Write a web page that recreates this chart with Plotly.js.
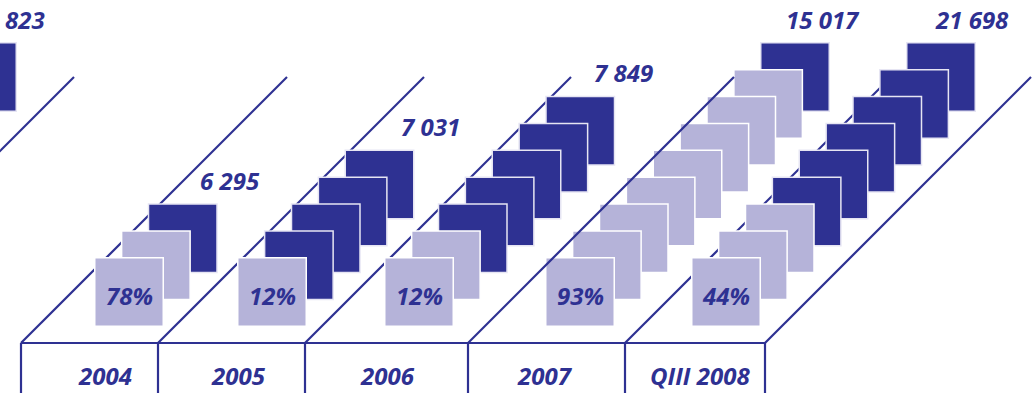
<!DOCTYPE html>
<html><head><meta charset="utf-8">
<script src="https://cdn.plot.ly/plotly-3.0.1.min.js"></script>
<style>html,body{margin:0;padding:0;background:#fff}#chart{width:1034px;height:393px}</style>
</head><body><div id="chart"></div>
<script>
// ---------- data ----------
// first group is cut at the left edge of the reference: only its trailing digits "823" are visible
const categories = ['2003', '2004', '2005', '2006', '2007', 'QIII 2008'];
const values = [823, 6295, 7031, 7849, 15017, 21698];
const growthPct = [null, 78, 12, 12, 93, 44];
const lightSquares = [0, 2, 1, 2, 8, 3];
const darkSquares = [9, 1, 4, 5, 1, 6];

// ---------- layout constants (pixel-mapped axes) ----------
const W = 1034, H = 393;
const NAVY = '#2E3192', LILAC = '#B5B3D9';
const laneEdges = [-192, 21, 158, 305, 468, 625, 765]; // lane/box edges at baseline
const laneAbove = [false, false, false, false, true, false, false];
const baseY = 343, topY = 77;
const frontLeft = [-268, 94, 237, 384, 545, 691];
const frontTop = 257, step = 26.875, side = 70;
const valueRight = [47, 262, 462, 655, 862, 1011];
const catCenter = [null, 105, 238, 387, 545, 700];
const catY = 375;

function fmt(v) { return String(v).replace(/\B(?=(\d{3})+(?!\d))/g, ' '); }

// ---------- squares ----------
const dark = {x: [], y: []}, light = {x: [], y: []};
categories.forEach((c, g) => {
  const n = lightSquares[g] + darkSquares[g];
  for (let i = n - 1; i >= 0; i--) {
    const cx = frontLeft[g] + i * step + side / 2;
    const cy = frontTop - i * step + side / 2;
    const tgt = i < lightSquares[g] ? light : dark;
    tgt.x.push(cx); tgt.y.push(cy);
  }
});

const traces = [
  {type: 'scatter', mode: 'markers', x: dark.x, y: dark.y, hoverinfo: 'skip', showlegend: false,
   marker: {symbol: 'square', size: side - 1.5, color: NAVY, line: {color: '#E6E5F3', width: 1.5}}},
  {type: 'scatter', mode: 'markers', x: light.x, y: light.y, hoverinfo: 'skip', showlegend: false,
   marker: {symbol: 'square', size: side - 1.5, color: LILAC, line: {color: '#FFFFFF', width: 1.5}}}
];

// ---------- lines ----------
const shapes = [];
const ln = {color: NAVY, width: 2.2};
laneEdges.forEach((e, k) => {
  shapes.push({type: 'line', xref: 'x', yref: 'y', x0: e, y0: baseY, x1: e + (baseY - topY), y1: topY,
               line: ln, layer: laneAbove[k] ? 'above' : 'below'});
  if (k >= 1) shapes.push({type: 'line', xref: 'x', yref: 'y', x0: e, y0: baseY, x1: e, y1: H + 5, line: ln, layer: 'below'});
});
shapes.push({type: 'line', xref: 'x', yref: 'y', x0: laneEdges[1], y0: baseY, x1: laneEdges[laneEdges.length - 1], y1: baseY, line: ln, layer: 'below'});

// ---------- text ----------
const font = {family: 'Open Sans, sans-serif', size: 24, color: NAVY, weight: 700, style: 'italic'};
const annotations = [];
categories.forEach((c, g) => {
  const n = lightSquares[g] + darkSquares[g];
  const topSq = frontTop - (n - 1) * step;
  annotations.push({xref: 'x', yref: 'y', x: valueRight[g], y: topSq - 23, text: fmt(values[g]),
                    xanchor: 'right', yanchor: 'middle', showarrow: false, font: font});
  if (growthPct[g] !== null) {
    annotations.push({xref: 'x', yref: 'y', x: frontLeft[g] + side / 2, y: frontTop + side / 2 + 3,
                      text: growthPct[g] + '%', xanchor: 'center', yanchor: 'middle', showarrow: false, font: font});
  }
  if (catCenter[g] !== null) {
    annotations.push({xref: 'x', yref: 'y', x: catCenter[g], y: catY, text: c,
                      xanchor: 'center', yanchor: 'middle', showarrow: false, font: font});
  }
});

const layout = {
  width: W, height: H, margin: {l: 0, r: 0, t: 0, b: 0, pad: 0},
  paper_bgcolor: '#fff', plot_bgcolor: '#fff', showlegend: false,
  xaxis: {range: [0, W], visible: false, fixedrange: true},
  yaxis: {range: [H, 0], visible: false, fixedrange: true},
  shapes: shapes, annotations: annotations
};
Plotly.newPlot('chart', traces, layout, {staticPlot: true, displayModeBar: false});
</script></body></html>
